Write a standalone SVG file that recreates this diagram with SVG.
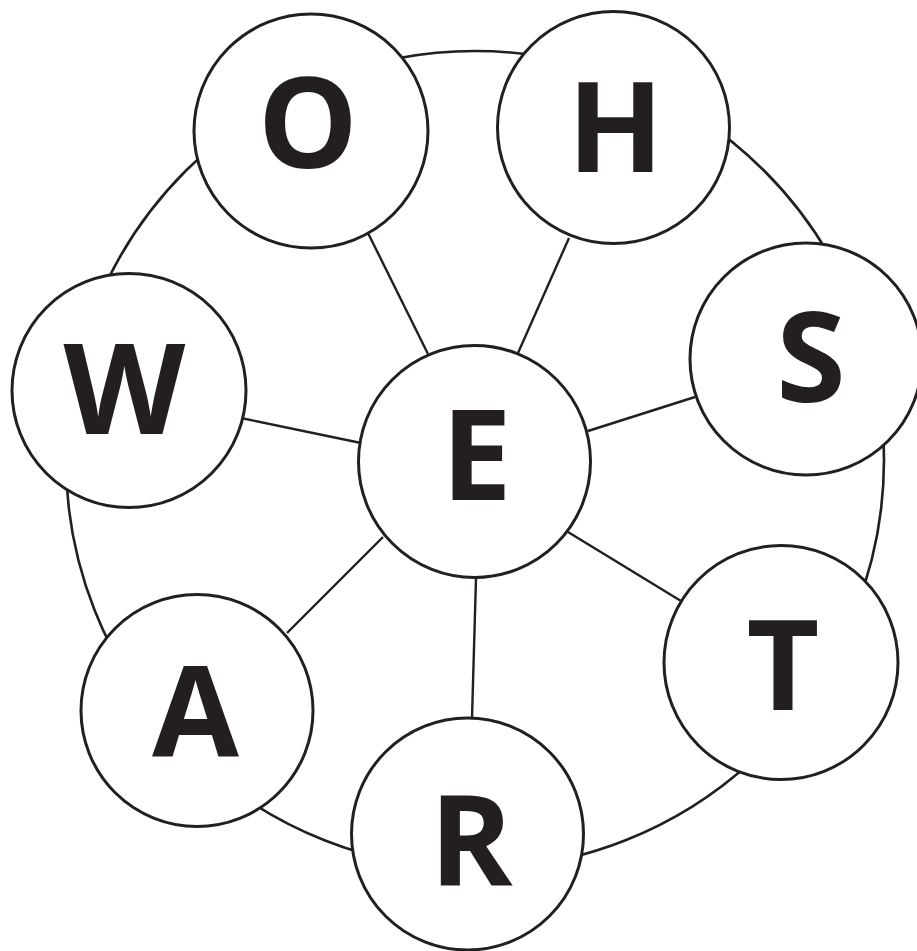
<svg xmlns="http://www.w3.org/2000/svg" width="917" height="951" viewBox="0 0 917 951">
<style>
.node circle{fill:#fff;stroke:#231f20;stroke-width:3}
.node text{font-family:"Open Sans","Liberation Sans",sans-serif;font-weight:700;font-size:126px;fill:#231f20;text-anchor:middle}
.spoke{stroke:#231f20;stroke-width:2.4;fill:none}
.rim{stroke:#231f20;stroke-width:2.6;fill:none}
</style>
<rect width="917" height="951" fill="#fff"/>
<g id="connectors">
<circle class="rim" cx="475" cy="460" r="409"/>
<line class="spoke" x1="367" y1="231" x2="428" y2="354"/>
<line class="spoke" x1="569" y1="238" x2="518" y2="353"/>
<line class="spoke" x1="695" y1="397" x2="588" y2="431"/>
<line class="spoke" x1="241" y1="418" x2="361" y2="443"/>
<line class="spoke" x1="287" y1="633" x2="383" y2="537"/>
<line class="spoke" x1="472" y1="718" x2="476" y2="578"/>
<line class="spoke" x1="681" y1="601" x2="568" y2="532"/>
</g>
<g id="node-E" class="node"><circle cx="474.5" cy="461.5" r="116"/><text x="476.5" y="500">E</text></g>
<g id="node-O" class="node"><circle cx="311" cy="131" r="117"/><text x="308" y="168">O</text></g>
<g id="node-H" class="node"><circle cx="613.5" cy="127.5" r="116"/><text x="615.5" y="172">H</text></g>
<g id="node-S" class="node"><circle cx="806" cy="359" r="116"/><text x="811" y="402">S</text></g>
<g id="node-W" class="node"><circle cx="129" cy="390.5" r="117"/><text x="124.5" y="434">W</text></g>
<g id="node-R" class="node"><circle cx="467.5" cy="834" r="116"/><text x="471" y="885">R</text></g>
<g id="node-T" class="node"><circle cx="781" cy="662.5" r="117"/><text x="783" y="710">T</text></g>
<g id="node-A" class="node"><circle cx="197" cy="710.5" r="116"/><text x="195.5" y="756">A</text></g>
</svg>
